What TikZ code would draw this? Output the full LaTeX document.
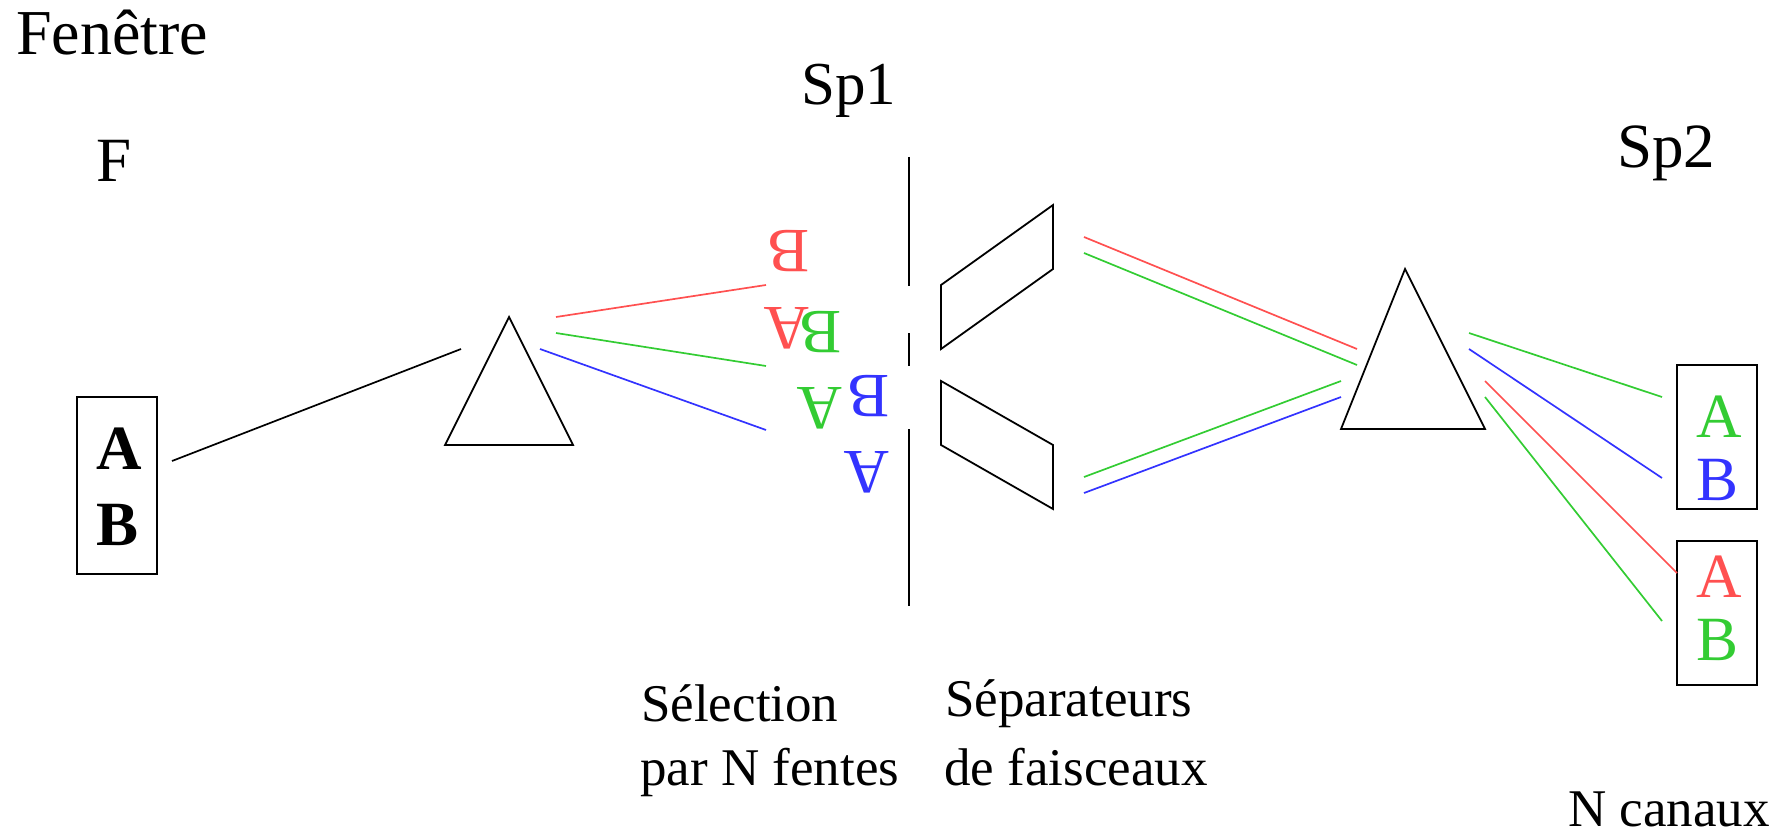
\documentclass[tikz,border=0pt]{standalone}
\usepackage{fontspec}
\setmainfont{Liberation Serif}
\definecolor{rd}{HTML}{FF5050}
\definecolor{gn}{HTML}{33CC33}
\definecolor{bl}{HTML}{3333FF}
\newcommand{\bigfs}{\fontsize{63}{70}\selectfont}
\newcommand{\midfs}{\fontsize{53}{60}\selectfont}
\tikzset{
  big/.style={anchor=base west,inner sep=0pt,font=\bigfs},
  bigc/.style={anchor=base,inner sep=0pt,font=\bigfs},
  mid/.style={anchor=base west,inner sep=0pt,font=\midfs},
  flip/.style={anchor=base west,inner sep=0pt,rotate=180,font=\bigfs},
  frame/.style={draw=black,line width=1.7pt,inner sep=0pt},
  ray/.style={line width=1.7pt},
  part/.style={draw=black,line width=1.8pt,line join=miter}
}
\begin{document}
\begin{tikzpicture}[x=1pt,y=-1pt]
\useasboundingbox (0,0) rectangle (1787,834);
% labels
\node[big,font=\fontsize{64}{70}\selectfont] (fen) at (16,55) {Fenêtre};
\node[big] (f) at (96,182) {F};
\node[big,font=\fontsize{61}{70}\selectfont] (spa) at (801,105) {Sp1};
\node[big] (spb) at (1617,168) {Sp2};
\node[mid] (sel) at (641,721) {Sélection};
\node[mid] (par) at (640,785) {par N fentes};
\node[mid] (sep) at (945,716) {Séparateurs};
\node[mid] (fai) at (944,785) {de faisceaux};
\node[mid] (can) at (1568,826) {N canaux};
% boxes
\node[frame,minimum width=80pt,minimum height=177pt] (boxF) at (116.75,485.5) {};
\node[frame,minimum width=80pt,minimum height=144pt] (boxU) at (1717,437) {};
\node[frame,minimum width=80pt,minimum height=144pt] (boxD) at (1717,613) {};
\node[bigc,font=\bigfs\bfseries] (fa) at (119,469) {A};
\node[bigc,font=\bigfs\bfseries] (fb) at (117.5,545) {B};
\node[bigc,text=gn] (ua) at (1719,437) {A};
\node[bigc,text=bl] (ub) at (1717,500) {B};
\node[bigc,text=rd] (da) at (1719,597) {A};
\node[bigc,text=gn] (db) at (1717,660) {B};
% inverted image letters
\node[flip,text=rd] (i1) at (810,231) {B};
\node[flip,text=rd] (i2) at (810,307) {A};
\node[flip,text=gn] (i3) at (842,311) {B};
\node[flip,text=gn] (i4) at (843,387) {A};
\node[flip,text=bl] (i5) at (890,375) {B};
\node[flip,text=bl] (i6) at (890,451) {A};
% prisms
\draw[part] (509,317) -- (573,445) -- (445,445) -- cycle;
\draw[part] (1405,269) -- (1485,429) -- (1341,429) -- cycle;
% slit screen
\draw[part] (909,157) -- (909,286);
\draw[part] (909,333) -- (909,366);
\draw[part] (909,429) -- (909,606);
% beam separators
\draw[part] (941,285) -- (1053,205) -- (1053,269) -- (941,349) -- cycle;
\draw[part] (941,381) -- (1053,445) -- (1053,509) -- (941,445) -- cycle;
% ray end points
\coordinate (a0) at (172,461); \coordinate (a1) at (461,349);
\coordinate (r1) at (556,317); \coordinate (r2) at (766,285);
\coordinate (g1) at (556,333); \coordinate (g2) at (766,366);
\coordinate (b1) at (540,349); \coordinate (b2) at (766,430);
\coordinate (r3) at (1084,237); \coordinate (r4) at (1357,349);
\coordinate (g3) at (1084,253); \coordinate (g4) at (1357,365);
\coordinate (g5) at (1084,477); \coordinate (g6) at (1341,381);
\coordinate (b3) at (1084,493); \coordinate (b4) at (1341,397);
\coordinate (g7) at (1469,333); \coordinate (g8) at (1662,397);
\coordinate (b5) at (1469,349); \coordinate (b6) at (1662,478);
\coordinate (r5) at (1485,381); \coordinate (r6) at (1677,573);
\coordinate (g9) at (1485,397); \coordinate (g10) at (1662,621);
% rays
\draw[ray,black] (a0) -- (a1);
\draw[ray,rd] (r1) -- (r2);
\draw[ray,gn] (g1) -- (g2);
\draw[ray,bl] (b1) -- (b2);
\draw[ray,rd] (r3) -- (r4);
\draw[ray,gn] (g3) -- (g4);
\draw[ray,gn] (g5) -- (g6);
\draw[ray,bl] (b3) -- (b4);
\draw[ray,gn] (g7) -- (g8);
\draw[ray,bl] (b5) -- (b6);
\draw[ray,rd] (r5) -- (r6);
\draw[ray,gn] (g9) -- (g10);
\end{tikzpicture}
\end{document}
